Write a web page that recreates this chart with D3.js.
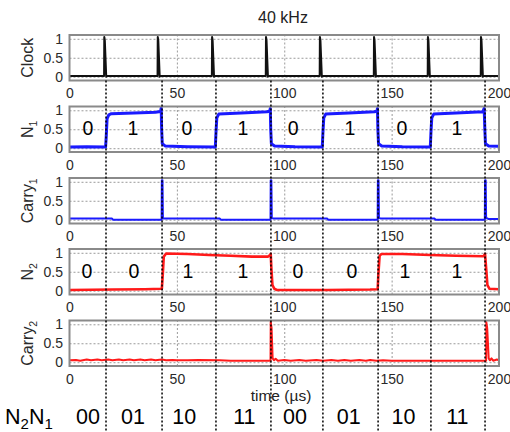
<!DOCTYPE html>
<html><head><meta charset="utf-8">
<script src="https://cdn.jsdelivr.net/npm/d3@7"></script>
<style>
body{margin:0;background:#fff;}
svg{display:block;font-family:"Liberation Sans",Arial,sans-serif;}
</style></head><body>
<svg id="chart" width="510" height="432"></svg>
<script>
// ---------- data ----------
const title = "40 kHz";
const xLabel = "time (µs)";
const xTicks = [0, 50, 100, 150, 200];
const yTicks = [0, 0.5, 1];
const dividers = [17.0, 43.1, 68.2, 93.8, 118.0, 143.7, 168.3, 193.5];

const clock = [[0,0.02],[16.1,0.02],[16.2,1.05],[16.45,0.95],[17.1,0.0],[17.3,0.02],
  [41.0,0.02],[41.1,1.05],[41.35,0.95],[42.0,0.0],[42.2,0.02],
  [66.3,0.02],[66.4,1.05],[66.65,0.95],[67.3,0.0],[67.5,0.02],
  [91.4,0.02],[91.5,1.05],[91.75,0.95],[92.4,0.0],[92.6,0.02],
  [116.5,0.02],[116.6,1.05],[116.85,0.95],[117.5,0.0],[117.7,0.02],
  [141.7,0.02],[141.8,1.05],[142.05,0.95],[142.7,0.0],[142.9,0.02],
  [166.8,0.02],[166.9,1.05],[167.15,0.95],[167.8,0.0],[168.0,0.02],
  [191.5,0.02],[191.6,1.05],[191.85,0.95],[192.5,0.0],[192.7,0.02],[200,0.02]];

const n1 = [[0,0.03],[8,0.04],[16.8,0.03],[17.1,0.3],[17.5,0.78],[18.3,0.88],[19.5,0.91],[30,0.93],[40,0.95],
  [42.4,0.97],[42.7,1.06],[42.9,0.5],[43.2,0.12],[44.5,0.06],[55,0.04],[67.9,0.03],
  [68.2,0.4],[68.6,0.8],[69.5,0.9],[80,0.93],[92,0.96],[93.3,0.98],[93.5,1.05],[93.7,0.5],[94.0,0.12],
  [95.5,0.06],[105,0.04],[117.7,0.03],[118.0,0.4],[118.4,0.8],[119.3,0.9],[130,0.93],[142,0.96],
  [143.2,0.98],[143.4,1.05],[143.6,0.5],[143.9,0.12],[145.4,0.06],[155,0.04],[168,0.03],
  [168.3,0.4],[168.7,0.8],[169.6,0.9],[180,0.93],[192.5,0.96],[193.1,1.05],[193.4,0.5],
  [193.7,0.12],[195.2,0.06],[200,0.05]];

const carry1 = [[0,0.03],[19.8,0.03],[20.2,0.0],[42.9,0.0],[43.0,1.04],[43.3,1.04],[43.5,0.05],[44,0.03],
  [70,0.03],[70.4,0.0],[93.6,0.0],[93.7,1.04],[94.0,1.04],[94.2,0.05],[95,0.03],
  [120,0.03],[120.4,0.0],[143.5,0.0],[143.6,1.04],[143.9,1.04],[144.1,0.05],[145,0.03],
  [170,0.03],[170.4,0.0],[193.4,0.0],[193.5,1.04],[193.8,1.04],[194.0,0.05],[195,0.02],[200,0.02]];

const n2 = [[0,0.02],[20,0.03],[35,0.04],[43.0,0.05],[43.3,0.3],[43.9,0.9],[45,0.98],[55,0.97],
  [65,0.94],[75,0.92],[85,0.9],[92.5,0.9],[93.4,0.94],[93.7,0.97],[94.0,0.6],[94.5,0.15],
  [95.4,0.05],[96.6,0.02],[120,0.02],[140,0.03],[143.5,0.04],[143.8,0.4],[144.4,0.92],
  [145.3,0.97],[155,0.97],[168,0.94],[180,0.92],[192.8,0.91],[193.5,0.97],[194.0,0.6],
  [194.6,0.15],[195.6,0.05],[200,0.04]];

const carry2 = [[0,0.05],[3,0.06],[5,0.04],[8,0.07],[10,0.05],[13,0.07],[15,0.05],[18,0.07],
  [20,0.05],[23,0.07],[25,0.05],[28,0.07],[30,0.05],[33,0.07],[35,0.05],[38,0.07],[40,0.05],
  [43,0.07],[45,0.05],[48,0.06],[50,0.05],[55,0.05],[60,0.06],[70,0.05],[75,0.04],[93.6,0.04],
  [93.7,1.07],[94.1,0.9],[94.6,0.1],[95.2,0.05],[96,0.09],[97,0.04],[100,0.06],[103,0.04],
  [107,0.06],[110,0.04],[115,0.06],[118,0.04],[122,0.06],[125,0.04],[128,0.06],[131,0.04],
  [135,0.06],[138,0.04],[140,0.06],[143,0.04],[146,0.05],[150,0.04],[170,0.04],[194.0,0.04],
  [194.1,1.06],[194.5,0.9],[195.2,0.1],[195.8,0.05],[196.5,0.1],[197.3,0.04],[199,0.07],[200,0.05]];

const n1Bits = ["0","1","0","1","0","1","0","1"];
const n1BitX = [8.6, 29.5, 54.7, 80.8, 104.1, 130.6, 154.8, 180.4];
const n2Bits = ["0","0","1","1","0","0","1","1"];
const n2BitX = [8.1, 30.0, 55.2, 80.8, 106.4, 131.5, 156.2, 180.4];
const codeLabels = ["00","01","10","11","00","01","10","11"];
const codeX = [8.6, 29.6, 53.4, 81.4, 105, 130, 155.5, 180.6];

// ---------- layout ----------
const svg = d3.select("#chart");
const x = d3.scaleLinear().domain([0, 200]).range([69.5, 499]);
const panelH = 45.5;
const panels = [
  {label:"Clock", sub:"", data:clock, color:"#111", w:2, top:35},
  {label:"N", sub:"1", data:n1, color:"#1a1aff", w:3, top:106.5, bits:n1Bits, bitX:n1BitX},
  {label:"Carry", sub:"1", data:carry1, color:"#1a1aff", w:2, top:178},
  {label:"N", sub:"2", data:n2, color:"#ff1a1a", w:2.6, top:249, bits:n2Bits, bitX:n2BitX},
  {label:"Carry", sub:"2", data:carry2, color:"#ff1a1a", w:2, top:320.5}
];

panels.forEach((p, i) => {
  const y = d3.scaleLinear().domain([-0.1, 1.1]).range([p.top + panelH, p.top]);
  const g = svg.append("g");
  // grid
  g.append("g").attr("transform", `translate(0,${p.top + panelH})`)
    .call(d3.axisBottom(x).tickValues([50,100,150]).tickSize(-panelH).tickFormat(""))
    .call(s => s.select(".domain").remove())
    .call(s => s.selectAll("line").attr("stroke","#9a9a9a").attr("stroke-width",1).attr("stroke-dasharray","2,2"));
  g.append("g").attr("transform", `translate(${x(0)},0)`)
    .call(d3.axisLeft(y).tickValues(yTicks).tickSize(-(x(200)-x(0))).tickFormat(""))
    .call(s => s.select(".domain").remove())
    .call(s => s.selectAll("line").attr("stroke","#9a9a9a").attr("stroke-width",1).attr("stroke-dasharray","2,2"));
  // trace
  g.append("path").datum(p.data)
    .attr("fill","none").attr("stroke",p.color).attr("stroke-width",p.w)
    .attr("stroke-linejoin","round")
    .attr("d", d3.line().x(d => x(d[0])).y(d => y(d[1])));
  // frame
  g.append("rect").attr("x", x(0)).attr("y", p.top)
    .attr("width", x(200) - x(0)).attr("height", panelH)
    .attr("fill","none").attr("stroke","#8a8a8a").attr("stroke-width",2);
  // tick labels
  g.append("g").attr("transform", `translate(0,${p.top + panelH})`)
    .call(d3.axisBottom(x).tickValues(xTicks).tickSize(0).tickPadding(8))
    .call(s => s.select(".domain").remove())
    .call(s => s.selectAll("text").attr("font-size",14).attr("fill","#2a2a2a")
      .attr("font-family","Liberation Sans, Arial, sans-serif"));
  g.append("g").attr("transform", `translate(${x(0)},0)`)
    .call(d3.axisLeft(y).tickValues(yTicks).tickSize(0).tickPadding(6.5).tickFormat(d3.format("")))
    .call(s => s.select(".domain").remove())
    .call(s => s.selectAll("text").attr("font-size",14).attr("fill","#2a2a2a")
      .attr("font-family","Liberation Sans, Arial, sans-serif"));
  // y label
  const t = g.append("text")
    .attr("transform", `translate(33,${p.top + panelH/2}) rotate(-90)`)
    .attr("text-anchor","middle").attr("font-size",16).attr("fill","#2a2a2a");
  t.append("tspan").text(p.label);
  if (p.sub) t.append("tspan").attr("font-size",10.5).attr("dy",4).text(p.sub);
  // bit digits
  if (p.bits) {
    g.selectAll("text.bit").data(p.bits).join("text").attr("class","bit")
      .attr("x", (d, j) => x(p.bitX[j])).attr("y", y(0.5) + 6)
      .attr("text-anchor","middle").attr("font-size",19.5).attr("fill","#000")
      .text(d => d);
  }
});

// dotted divider lines
svg.append("g").selectAll("line").data(dividers).join("line")
  .attr("x1", d => x(d)).attr("x2", d => x(d))
  .attr("y1", 35 + panelH).attr("y2", 432)
  .attr("stroke","#000").attr("stroke-width",1.5).attr("stroke-dasharray","2,2");

// title, x label
svg.append("text").attr("x", 283).attr("y", 23).attr("text-anchor","middle")
  .attr("font-size",16).attr("fill","#222").text(title);
svg.append("text").attr("x", 281).attr("y", 400.5).attr("text-anchor","middle")
  .attr("font-size",15.5).attr("fill","#222").text(xLabel);

// bottom code row
const nn = svg.append("text").attr("x", 5).attr("y", 424).attr("font-size",21.5).attr("fill","#000");
nn.append("tspan").text("N");
nn.append("tspan").attr("font-size",15).attr("dy",5).text("2");
nn.append("tspan").attr("dy",-5).text("N");
nn.append("tspan").attr("font-size",15).attr("dy",5).text("1");
svg.append("g").selectAll("text").data(codeLabels).join("text")
  .attr("x", (d, i) => x(codeX[i])).attr("y", 424)
  .attr("text-anchor","middle").attr("font-size",21.5).attr("fill","#000")
  .text(d => d);
</script>
</body></html>
